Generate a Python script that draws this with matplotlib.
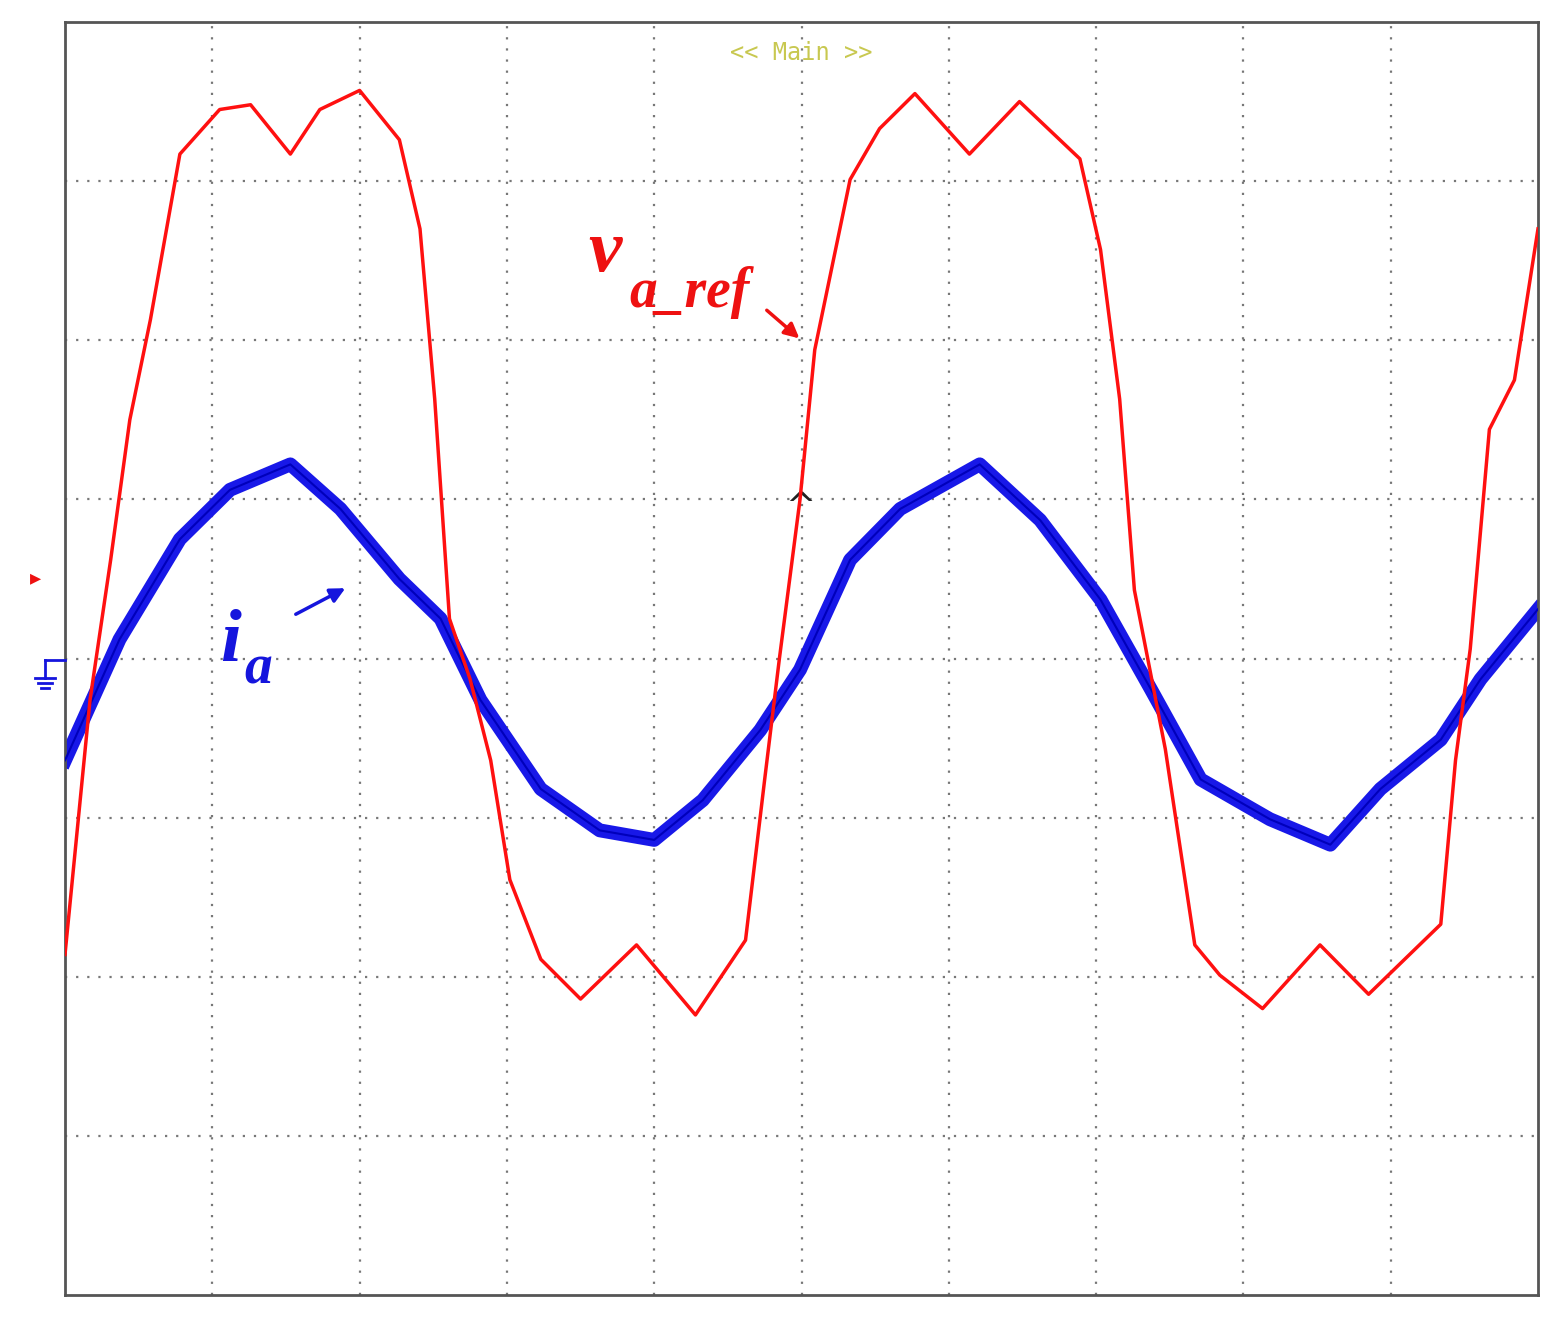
import matplotlib.pyplot as plt
import numpy as np

# scope trace readings, in divisions (x: 0..10, y: -4..4)
va_x = [0, 0.17, 0.31, 0.44, 0.58, 0.78, 1.05, 1.26, 1.53, 1.73, 2.0, 2.27, 2.41, 2.51, 2.61,
        2.75, 2.89, 3.02, 3.23, 3.5, 3.88, 4.28, 4.62, 4.75, 4.85, 4.99, 5.09, 5.33, 5.53,
        5.77, 6.14, 6.48, 6.89, 7.03, 7.16, 7.26, 7.47, 7.67, 7.84, 8.13, 8.52, 8.85, 9.34,
        9.44, 9.54, 9.67, 9.84, 10.0]
va_y = [-1.86, -0.26, 0.62, 1.5, 2.13, 3.17, 3.45, 3.48, 3.17, 3.45, 3.57, 3.26, 2.7, 1.63, 0.25,
        -0.13, -0.64, -1.39, -1.89, -2.14, -1.8, -2.24, -1.77, -0.76, 0.0, 1.0, 1.94, 3.01, 3.33,
        3.55, 3.17, 3.5, 3.14, 2.57, 1.63, 0.43, -0.57, -1.8, -1.99, -2.2, -1.8, -2.11, -1.67,
        -0.64, 0.06, 1.44, 1.75, 2.7]

ia_x = [0, 0.37, 0.78, 1.12, 1.53, 1.87, 2.27, 2.55, 2.82, 3.23, 3.63, 4.0, 4.33, 4.72, 4.99,
        5.33, 5.67, 6.21, 6.62, 7.03, 7.37, 7.71, 8.18, 8.59, 8.93, 9.34, 9.61, 10.0]
ia_y = [-0.64, 0.12, 0.75, 1.06, 1.22, 0.94, 0.5, 0.25, -0.26, -0.82, -1.08, -1.14, -0.89, -0.45,
        -0.07, 0.62, 0.94, 1.22, 0.87, 0.37, -0.19, -0.76, -1.01, -1.17, -0.82, -0.51, -0.13, 0.31]

fig = plt.figure(figsize=(15.66, 13.28), dpi=100)
ax = fig.add_axes([65 / 1566, 33 / 1328, 1473 / 1566, 1273 / 1328])
ax.set_xlim(0, 10)
ax.set_ylim(-4, 4)

for gx in range(1, 10):
    ax.axvline(gx, color='#777777', linestyle=(0, (1, 4)), lw=1.6, zorder=0)
for gy in range(-3, 4):
    ax.axhline(gy, color='#777777', linestyle=(0, (1, 4)), lw=1.6, zorder=0)

ax.plot(ia_x, ia_y, color='#1818e8', lw=10, solid_joinstyle='round', zorder=2)
ax.plot(ia_x, ia_y, color='#0000bb', lw=1.5, zorder=3)
ax.plot(va_x, va_y, color='#ff1010', lw=2.5, zorder=4)

ax.set_xticks([])
ax.set_yticks([])
for s in ax.spines.values():
    s.set_color('#555555')
    s.set_linewidth(2)

serif = dict(family='Liberation Serif', style='italic', weight='bold')
ax.text(0.5, 0.985, '<< Main >>', transform=ax.transAxes, ha='center', va='top',
        family='DejaVu Sans Mono', fontsize=17, color='#c8c850')
ax.text(3.55, 2.55, 'v', color='#ee1111', fontsize=54, ha='left', va='center', **serif)
ax.text(3.83, 2.3, 'a_ref', color='#ee1111', fontsize=40, ha='left', va='center', **serif)
ax.annotate('', xy=(5.0, 2.0), xytext=(4.75, 2.2),
            arrowprops=dict(arrowstyle='-|>', color='#ee1111', lw=2.5, mutation_scale=22))
ax.text(1.05, 0.1, 'i', color='#1515dd', fontsize=54, ha='left', va='center', **serif)
ax.text(1.22, -0.07, 'a', color='#1515dd', fontsize=40, ha='left', va='center', **serif)
ax.annotate('', xy=(1.92, 0.45), xytext=(1.55, 0.27),
            arrowprops=dict(arrowstyle='-|>', color='#1515dd', lw=2.5, mutation_scale=22))
ax.text(4.99, 0.95, '^', color='#222222', fontsize=26, ha='center', va='center')

fig.text(30 / 1566, 1 - 578 / 1328, '\u25b8', color='#ee1111', fontsize=16, va='center')
# ground symbol drawn as lines
gx0, gy0 = 45 / 1566, 1 - 660 / 1328
fig.add_artist(plt.Line2D([gx0, gx0 + 20 / 1566], [gy0, gy0], color='#1515dd', lw=2))
fig.add_artist(plt.Line2D([gx0, gx0], [gy0, gy0 - 18 / 1328], color='#1515dd', lw=2))
for k, w in enumerate([10, 7, 4]):
    yy = gy0 - (18 + 5 * k) / 1328
    fig.add_artist(plt.Line2D([gx0 - w / 1566, gx0 + w / 1566], [yy, yy], color='#1515dd', lw=2))

fig.savefig('out.png', dpi=100, facecolor='white')
